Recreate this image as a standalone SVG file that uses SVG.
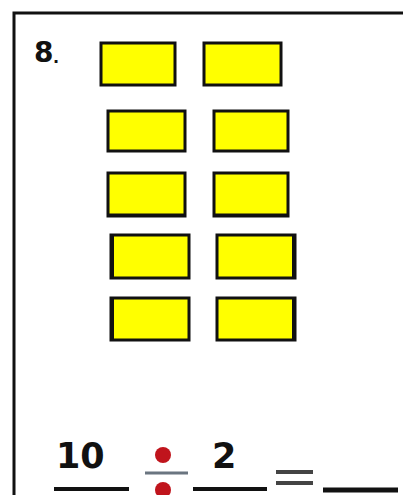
<svg xmlns="http://www.w3.org/2000/svg" width="403" height="495" viewBox="0 0 403 495">
<style>
.box{fill:#ffff00;stroke:#111;stroke-width:3}
.t{font-family:"DejaVu Sans",sans-serif;font-weight:bold;fill:#111}
.ln{stroke:#111;stroke-width:4}
</style>
<rect width="403" height="495" fill="#fff"/>
<path d="M14,495 V13 H403" fill="none" stroke="#111" stroke-width="3"/>
<text class="t" x="34" y="62" font-size="28">8</text>
<text class="t" x="53" y="63" font-size="16">.</text>
<g id="r1l"><rect class="box" x="101" y="43" width="74" height="42"/></g>
<g id="r1r"><rect class="box" x="204" y="43" width="77" height="42"/></g>
<g id="r2l"><rect class="box" x="108" y="111" width="77" height="40"/></g>
<g id="r2r"><rect class="box" x="214" y="111" width="74" height="40"/></g>
<g id="r3l"><rect class="box" x="108" y="173" width="77" height="43"/><line x1="107" y1="215" x2="185" y2="215" stroke="#111" stroke-width="3"/></g>
<g id="r3r"><rect class="box" x="214" y="173" width="74" height="43"/><line x1="213" y1="215" x2="288" y2="215" stroke="#111" stroke-width="3"/></g>
<g id="r4l"><rect class="box" x="111" y="235" width="78" height="43"/><line x1="112" y1="234" x2="112" y2="279" stroke="#111" stroke-width="4"/></g>
<g id="r4r"><rect class="box" x="217" y="235" width="78" height="43"/><line x1="294" y1="234" x2="294" y2="279" stroke="#111" stroke-width="4"/></g>
<g id="r5l"><rect class="box" x="111" y="298" width="78" height="42"/><line x1="112" y1="297" x2="112" y2="341" stroke="#111" stroke-width="4"/></g>
<g id="r5r"><rect class="box" x="217" y="298" width="78" height="42"/><line x1="294" y1="297" x2="294" y2="341" stroke="#111" stroke-width="4"/></g>
<g id="equation">
<text class="t" x="56" y="468" font-size="35">10</text>
<text class="t" x="212" y="468" font-size="35">2</text>
<line class="ln" x1="54" y1="489" x2="129" y2="489"/>
<line class="ln" x1="193" y1="489" x2="267" y2="489"/>
<circle cx="163" cy="455" r="8" fill="#c0141c"/>
<circle cx="163" cy="490" r="8" fill="#c0141c"/>
<line x1="145" y1="473" x2="188" y2="473" stroke="#6a7580" stroke-width="3"/>
<line x1="276" y1="472" x2="313" y2="472" stroke="#444" stroke-width="4"/>
<line x1="276" y1="483" x2="313" y2="483" stroke="#444" stroke-width="4"/>
<line x1="323" y1="490" x2="398" y2="490" stroke="#111" stroke-width="5"/>
</g>
</svg>
